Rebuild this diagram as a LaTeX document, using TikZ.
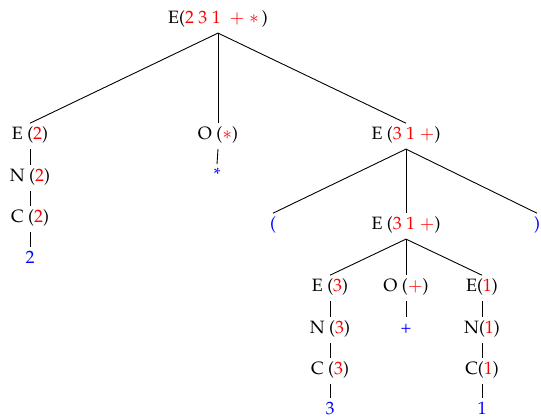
\documentclass[tikz,border=0pt]{standalone}
\usepackage[T1]{fontenc}
\usepackage{mathpazo}
\usepackage{tikz}
\usetikzlibrary{positioning}

\begin{document}
\begin{tikzpicture}[x=0.56pt, y=-0.56pt,
		nt_node/.style={anchor=base, inner sep=0pt, text height=9.2pt, text depth=4.9pt},
		t_node/.style={nt_node, text=blue},
		tree_edge/.style={line width=0.5pt, black}
		]
		\useasboundingbox (0,0) rectangle (541,418);
		
		% root and first level
		\node[nt_node] (root) at (218,24) {E(\textcolor{red}{2 3 1\hspace{5pt}$+$ $\ast$}\,)};
		\node[nt_node] (e2) at (30,140) {E (\textcolor{red}{2})};
		\node[nt_node] (o_ast) at (218,140) {O (\textcolor{red}{$\ast$})};
		\node[nt_node] (e31p) at (406,140) {E (\textcolor{red}{3 1 $+$})};
		
		% chain below E(2)
		\node[nt_node] (n2) at (30,182) {N (\textcolor{red}{2})};
		\node[nt_node] (c2) at (30,223) {C (\textcolor{red}{2})};
		\node[t_node] (d2) at (30,264) {2};
		\node[t_node] (t_ast) at (217,181) {*};
		
		% E(3 1 +) subtree
		\node[t_node] (lpar) at (273,230) {(};
		\node[nt_node] (e31p_in) at (406,230) {E (\textcolor{red}{3 1 $+$})};
		\node[t_node] (rpar) at (537,230) {)};
		\node[nt_node] (e3) at (330,292) {E (\textcolor{red}{3})};
		\node[nt_node] (n3) at (330,334) {N (\textcolor{red}{3})};
		\node[nt_node] (c3) at (330,375) {C (\textcolor{red}{3})};
		\node[t_node] (d3) at (330,415) {3};
		\node[nt_node] (o_plus) at (406,292) {O (\textcolor{red}{$+$})};
		\node[t_node] (t_plus) at (406,334) {+};
		\node[nt_node] (e1) at (482,292) {E(\textcolor{red}{1})};
		\node[nt_node] (n1) at (482,334) {N(\textcolor{red}{1})};
		\node[nt_node] (c1) at (482,375) {C(\textcolor{red}{1})};
		\node[t_node] (d1) at (482,415) {1};
		
		\foreach \b in {e2, o_ast, e31p} \draw[tree_edge] (root.south) -- (\b.north);
		\foreach \a/\b in {e2/n2, n2/c2, c2/d2, o_ast/t_ast, e31p/lpar, e31p/e31p_in, e31p/rpar,
			e31p_in/e3, e31p_in/o_plus, e31p_in/e1, e3/n3, n3/c3, c3/d3, o_plus/t_plus,
			e1/n1, n1/c1, c1/d1}
			\draw[tree_edge] (\a.south) -- (\b.north);
	\end{tikzpicture}
\end{document}
